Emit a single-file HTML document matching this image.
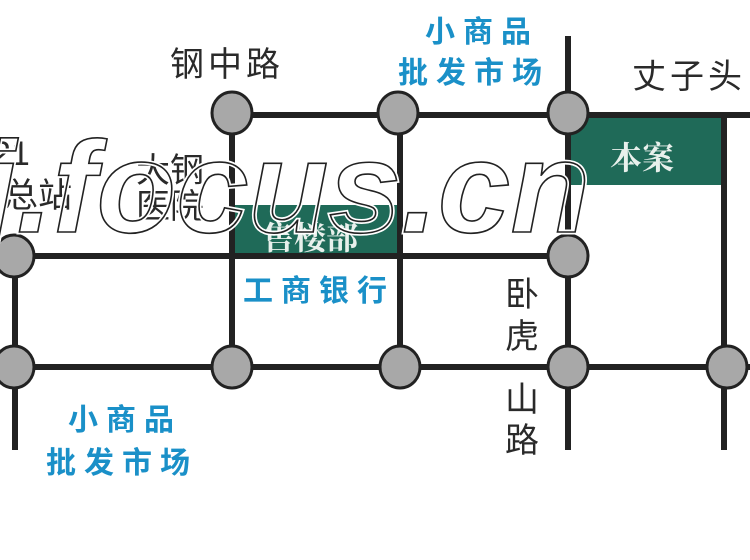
<!DOCTYPE html>
<html><head><meta charset="utf-8"><style>
html,body{margin:0;padding:0;background:#fff;width:750px;height:560px;overflow:hidden}
svg{display:block}
.k{font-family:"Liberation Sans","Noto Sans CJK SC",sans-serif;fill:#2a2a2a;font-size:34px}
.b{font-family:"Liberation Sans","Noto Sans CJK SC",sans-serif;fill:#1a90c8;font-size:30px;font-weight:bold;letter-spacing:8px}
.w{font-family:"Liberation Serif","Noto Serif CJK SC",serif;fill:#e8f0ec;font-size:32px;font-weight:bold}
</style></head><body>
<svg width="750" height="560" viewBox="0 0 750 560">
<rect x="232" y="205" width="168" height="51" fill="#1f6a58"/>
<rect x="570" y="117" width="154" height="68" fill="#1f6a58"/>
<g stroke="#222" stroke-width="6" fill="none">
<line x1="232" y1="115" x2="750" y2="115"/>
<line x1="15" y1="256" x2="568" y2="256"/>
<line x1="15" y1="367" x2="750" y2="367"/>
<line x1="15" y1="256" x2="15" y2="450"/>
<line x1="232" y1="115" x2="232" y2="367"/>
<line x1="400" y1="115" x2="400" y2="367"/>
<line x1="568" y1="36" x2="568" y2="450"/>
<line x1="724" y1="115" x2="724" y2="450"/>
</g>
<g fill="#a8a8a8" stroke="#222" stroke-width="3">
<ellipse cx="232" cy="113" rx="20" ry="21"/>
<ellipse cx="398" cy="113" rx="20" ry="21"/>
<ellipse cx="568" cy="113" rx="20" ry="21"/>
<ellipse cx="14" cy="256" rx="20" ry="21"/>
<ellipse cx="568" cy="256" rx="20" ry="21"/>
<ellipse cx="14" cy="367" rx="20" ry="21"/>
<ellipse cx="232" cy="367" rx="20" ry="21"/>
<ellipse cx="400" cy="367" rx="20" ry="21"/>
<ellipse cx="568" cy="367" rx="20" ry="21"/>
<ellipse cx="727" cy="367" rx="20" ry="21"/>
</g>
<text class="k" x="170" y="76" letter-spacing="4">钢中路</text>
<text class="k" x="632" y="88" letter-spacing="4">丈子头</text>
<text class="k" x="-8" y="165">21</text>
<text class="k" x="4" y="207">总站</text>
<text class="k" x="136" y="182">大钢</text>
<text class="k" x="136" y="218">医院</text>
<text class="k" x="505" y="306">卧</text>
<text class="k" x="505" y="348">虎</text>
<text class="k" x="505" y="411">山</text>
<text class="k" x="505" y="452">路</text>
<text class="b" x="425" y="42" letter-spacing="1">小商品</text>
<text class="b" x="398" y="83">批发市场</text>
<text class="b" x="243" y="301" letter-spacing="5">工商银行</text>
<text class="b" x="68" y="430" letter-spacing="10">小商品</text>
<text class="b" x="46" y="473">批发市场</text>
<text class="w" x="610" y="169">本案</text>
<text class="w" x="262" y="249">售楼部</text>
<g font-family="Liberation Sans,sans-serif" font-style="italic" font-weight="bold" font-size="130">
<text x="-20" y="232" fill="none" stroke="#fff" stroke-width="5" textLength="610">j.focus.cn</text>
<text x="-20" y="232" fill="none" stroke="#222" stroke-width="1.6" textLength="610">j.focus.cn</text>
</g>
</svg>
</body></html>
